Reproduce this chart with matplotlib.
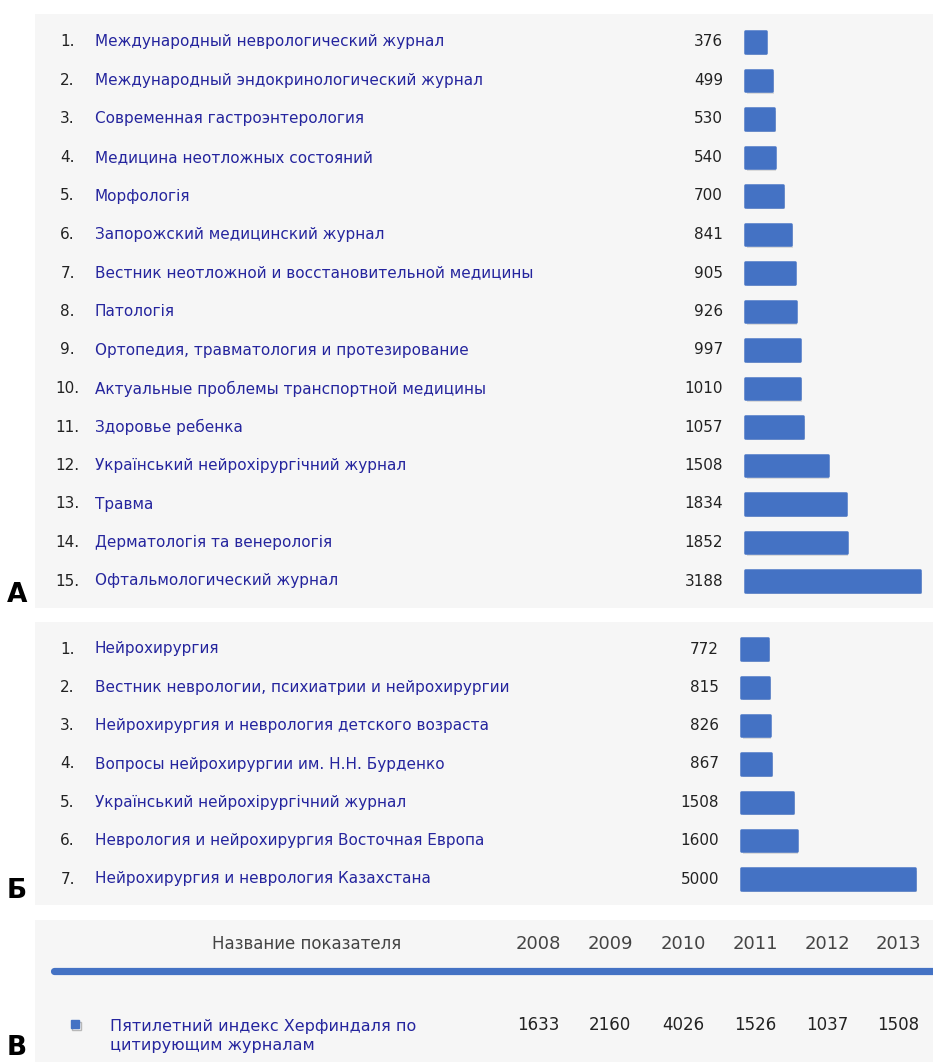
import matplotlib
matplotlib.use('Agg')
import matplotlib.pyplot as plt
import matplotlib.patheffects as pe
from matplotlib.transforms import blended_transform_factory

# figure size in pixels
W, H = 933, 1062

# --- panel A: journals citing the journal ---
journals_a = [
    'Международный неврологический журнал',
    'Международный эндокринологический журнал',
    'Современная гастроэнтерология',
    'Медицина неотложных состояний',
    'Морфологія',
    'Запорожский медицинский журнал',
    'Вестник неотложной и восстановительной медицины',
    'Патологія',
    'Ортопедия, травматология и протезирование',
    'Актуальные проблемы транспортной медицины',
    'Здоровье ребенка',
    'Український нейрохірургічний журнал',
    'Травма',
    'Дерматологія та венерологія',
    'Офтальмологический журнал',
]
values_a = [376, 499, 530, 540, 700, 841, 905, 926, 997, 1010, 1057, 1508, 1834, 1852, 3188]

# --- panel B: neurosurgery journals ---
journals_b = [
    'Нейрохирургия',
    'Вестник неврологии, психиатрии и нейрохирургии',
    'Нейрохирургия и неврология детского возраста',
    'Вопросы нейрохирургии им. Н.Н. Бурденко',
    'Український нейрохірургічний журнал',
    'Неврология и нейрохирургия Восточная Европа',
    'Нейрохирургия и неврология Казахстана',
]
values_b = [772, 815, 826, 867, 1508, 1600, 5000]

# --- panel C: Herfindahl index by year ---
years = ['2008', '2009', '2010', '2011', '2012', '2013']
herf_label = 'Пятилетний индекс Херфиндаля по\nцитирующим журналам'
herf_values = [1633, 2160, 4026, 1526, 1037, 1508]

BG = '#f6f6f6'
BAR = '#4472c4'
LINK = '#25259e'
TXT = '#222222'
HEAD = '#444444'

plt.rcParams['font.family'] = ['DejaVu Sans']

fig = plt.figure(figsize=(W / 100, H / 100), dpi=100)

shadow = [pe.SimplePatchShadow(offset=(1.2, -1.8), shadow_rgbFace='#777777', alpha=0.22),
          pe.Normal()]


def px_axes(x0, y0, x1, y1):
    """axes placed by pixel box (top-left origin)"""
    ax = fig.add_axes([x0 / W, 1 - y1 / H, (x1 - x0) / W, (y1 - y0) / H])
    ax.set_facecolor(BG)
    for s in ax.spines.values():
        s.set_visible(False)
    ax.set_xticks([])
    ax.set_yticks([])
    return ax


def ranking_panel(box, names, values, y_first, y_last, bar_x, px_per_unit, val_x):
    x0, y0, x1, y1 = box
    ax = px_axes(*box)
    n = len(values)
    step = (y_last - y_first) / (n - 1)
    ax.set_ylim(n - 1 + (y1 - y_last) / step, -(y_first - y0) / step)
    ax.set_xlim(-(bar_x - x0) / px_per_unit, (x1 - bar_x) / px_per_unit)

    ax.barh(range(n), values, height=0.55, color=BAR, edgecolor=BAR,
            linewidth=1.8, joinstyle='round', path_effects=shadow)

    tr = blended_transform_factory(ax.transAxes, ax.transData)
    fx = lambda px: (px - x0) / (x1 - x0)
    for i, (name, v) in enumerate(zip(names, values)):
        ax.text(fx(67.5), i, f'{i + 1}.', ha='center', va='center',
                fontsize=11, color=TXT, transform=tr)
        ax.text(fx(95), i, name, ha='left', va='center',
                fontsize=11, color=LINK, transform=tr)
        ax.text(fx(val_x), i, str(v), ha='right', va='center',
                fontsize=11, color=TXT, transform=tr)
    return ax


ranking_panel((35, 14, W, 608), journals_a, values_a, 42, 581, 745, 175 / 3188, 723)
ranking_panel((35, 622, W, 905), journals_b, values_b, 649, 879, 741, 174 / 5000, 719)

# panel C: simple table drawn in pixel coords
axc = px_axes(35, 920, W, H)
axc.set_xlim(35, W)
axc.set_ylim(H, 920)
year_x = [538, 610, 683, 755, 827, 898]
axc.text(307, 944, 'Название показателя', ha='center', va='center', fontsize=12, color=HEAD)
for x, y in zip(year_x, years):
    axc.text(x, 944, y, ha='center', va='center', fontsize=13, color=HEAD)
axc.plot([54, W + 10], [971, 971], color=BAR, lw=5.2, solid_capstyle='round')
axc.plot([75], [1024], marker='s', ms=6, color=BAR, mec=BAR,
         path_effects=[pe.SimpleLineShadow(offset=(1, -1.5), alpha=0.25), pe.Normal()])
axc.text(110, 1036, herf_label, ha='left', va='center', fontsize=11.5, color=LINK, linespacing=1.35)
for x, v in zip(year_x, herf_values):
    axc.text(x, 1025, str(v), ha='center', va='center', fontsize=12, color=TXT)

# panel letters
fig.text(7 / W, 1 - 608 / H, 'А', fontsize=19, fontweight='bold', ha='left', va='bottom')
fig.text(7 / W, 1 - 904 / H, 'Б', fontsize=19, fontweight='bold', ha='left', va='bottom')
fig.text(7 / W, 1 - 1061 / H, 'В', fontsize=19, fontweight='bold', ha='left', va='bottom')

fig.savefig('out.png', dpi=100, facecolor='white')
